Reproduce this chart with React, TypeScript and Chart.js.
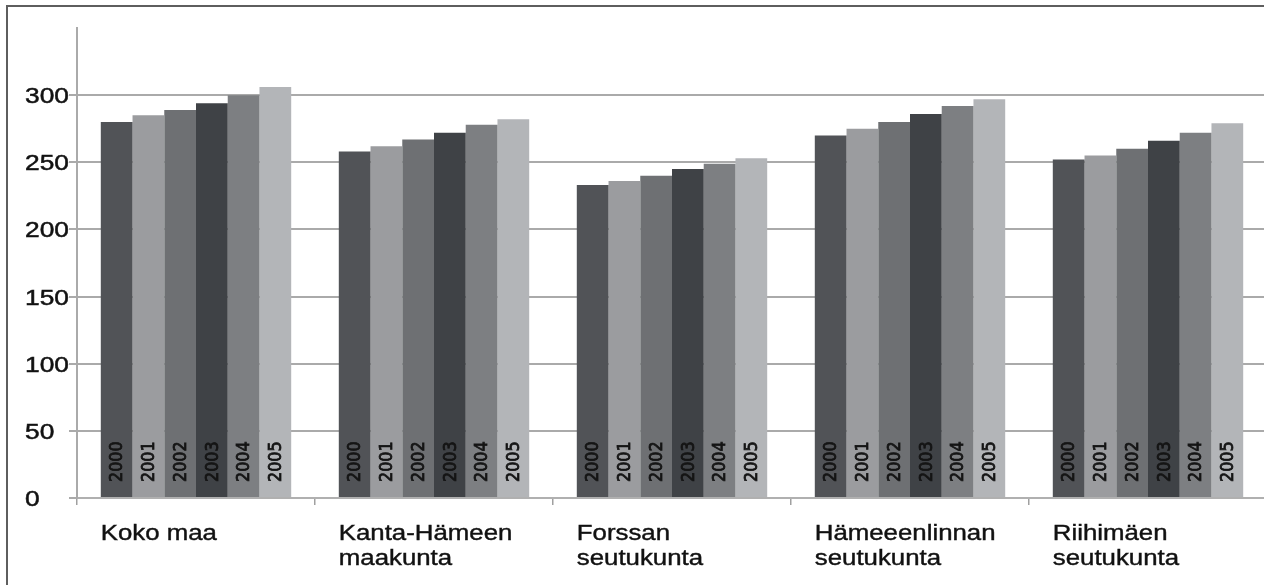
import React, { useEffect, useRef } from "react";
import { Chart, registerables } from "chart.js";

Chart.register(...registerables);

const categories: string[][] = [
  ["Koko maa"],
  ["Kanta-Hämeen", "maakunta"],
  ["Forssan", "seutukunta"],
  ["Hämeeenlinnan", "seutukunta"],
  ["Riihimäen", "seutukunta"],
];

const years = ["2000", "2001", "2002", "2003", "2004", "2005"];

const s2000 = [280, 258, 233, 270, 252];
const s2001 = [285, 262, 236, 275, 255];
const s2002 = [289, 267, 240, 280, 260];
const s2003 = [294, 272, 245, 286, 266];
const s2004 = [300, 278, 249, 292, 272];
const s2005 = [306, 282, 253, 297, 279];

const seriesValues = [s2000, s2001, s2002, s2003, s2004, s2005];
const seriesColors = ["#515357", "#9b9c9f", "#6e7073", "#3f4246", "#7d7f82", "#b3b5b8"];

const yMax = 350;
const yStep = 50;
const yLabelMax = 300;

function heavyText(ctx: any, text: string, w: number) {
  ctx.lineWidth = w;
  ctx.strokeText(text, 0, 0);
  ctx.fillText(text, 0, 0);
}

const customLabels = {
  id: "customLabels",
  afterDatasetsDraw(chart: any) {
    const ctx = chart.ctx;
    ctx.save();
    ctx.fillStyle = "#141414";
    ctx.strokeStyle = "#141414";
    ctx.font = "16px 'DejaVu Sans'";
    ctx.textAlign = "left";
    ctx.textBaseline = "middle";
    chart.data.datasets.forEach((ds: any, di: number) => {
      const meta = chart.getDatasetMeta(di);
      meta.data.forEach((el: any) => {
        ctx.save();
        ctx.translate(el.x + 1, el.base - 15);
        ctx.scale(1.15, 1);
        ctx.rotate(-Math.PI / 2);
        heavyText(ctx, ds.label, 0.7);
        ctx.restore();
      });
    });
    ctx.restore();
  },
  afterDraw(chart: any) {
    const ctx = chart.ctx;
    const ys = chart.scales.y;
    ctx.save();
    ctx.fillStyle = "#111";
    ctx.strokeStyle = "#111";
    ctx.textAlign = "left";
    ctx.textBaseline = "alphabetic";
    ctx.font = "22.5px 'Liberation Sans'";
    ys.ticks.forEach((t: any) => {
      if (t.value > yLabelMax) return;
      const y = ys.getPixelForValue(t.value);
      ctx.save();
      ctx.translate(ys.left, y + 8);
      ctx.scale(1.17, 1);
      heavyText(ctx, String(t.value), 0.5);
      ctx.restore();
    });
    ctx.font = "21.5px 'Liberation Sans'";
    const meta0 = chart.getDatasetMeta(0);
    const bottom = chart.chartArea.bottom;
    categories.forEach((lines, i) => {
      const el: any = meta0.data[i];
      const x = el.x - el.width / 2;
      lines.forEach((line, li) => {
        ctx.save();
        ctx.translate(x, bottom + 42 + li * 25);
        ctx.scale(1.2, 1);
        heavyText(ctx, line, 0.4);
        ctx.restore();
      });
    });
    ctx.restore();
  },
};

export default function App() {
  const ref = useRef<HTMLCanvasElement | null>(null);
  useEffect(() => {
    if (!ref.current) return;
    const chart = new Chart(ref.current, {
      type: "bar",
      data: {
        labels: categories.map((c) => c.join(" ")),
        datasets: years.map((yr, i) => ({
          label: yr,
          data: seriesValues[i],
          backgroundColor: seriesColors[i],
          borderWidth: 0,
          categoryPercentage: 0.8,
          barPercentage: 1.0,
        })),
      },
      options: {
        responsive: false,
        animation: false,
        devicePixelRatio: 1,
        layout: { padding: { left: 25, top: 28, right: 3, bottom: 0 } },
        plugins: {
          legend: { display: false },
          tooltip: { enabled: false },
          title: { display: false },
        },
        scales: {
          x: {
            ticks: { display: false },
            grid: {
              display: true,
              drawOnChartArea: false,
              drawTicks: true,
              tickLength: 7,
              color: "#a0a0a0",
              lineWidth: 1.5,
            },
            border: { display: true, color: "#b0b0b0", width: 2 },
            afterFit: (s: any) => {
              s.height = 87;
            },
          },
          y: {
            min: 0,
            max: yMax,
            ticks: { display: false, stepSize: yStep },
            grid: {
              drawTicks: true,
              tickLength: 8,
              lineWidth: 2,
              color: (c: any) => (c.tick && c.tick.value > yLabelMax ? "rgba(0,0,0,0)" : "#aaaaaa"),
            },
            border: { display: true, color: "#aaaaaa", width: 2 },
            afterFit: (s: any) => {
              s.width = 52;
            },
          },
        },
      },
      plugins: [customLabels],
    });
    return () => chart.destroy();
  }, []);

  return (
    <div
      style={{
        position: "fixed",
        left: 0,
        top: 0,
        width: 1264,
        height: 585,
        overflow: "hidden",
        background: "#fff",
      }}
    >
      <canvas ref={ref} width={1270} height={585} style={{ width: 1270, height: 585, display: "block" }} />
      <div
        style={{
          position: "absolute",
          left: 6,
          top: 5,
          right: 0,
          bottom: 0,
          borderLeft: "2px solid #5e5e5e",
          borderTop: "2px solid #5e5e5e",
          pointerEvents: "none",
        }}
      />
    </div>
  );
}
